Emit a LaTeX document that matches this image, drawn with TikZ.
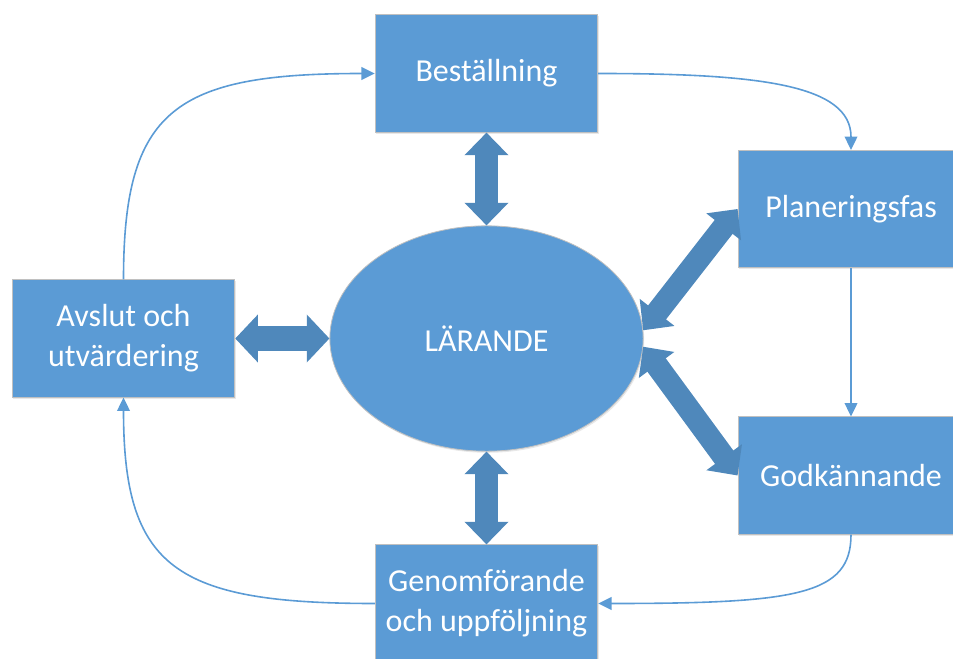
\documentclass[tikz,border=0pt]{standalone}
\usepackage{fontspec}
\setmainfont{Carlito}
\usepackage{tikz}
\usetikzlibrary{arrows.meta,positioning,shapes.geometric,shadows}

\begin{document}
\begin{tikzpicture}[x=0.75pt,y=-0.75pt]
\definecolor{boxblue}{HTML}{5B9BD5}
\definecolor{linkblue}{HTML}{4F88BB}
\definecolor{edgegray}{HTML}{C0C0C0}
\tikzset{
  phase/.style={rectangle,fill=boxblue,draw=edgegray,line width=0.6pt,text=white,align=center,
    minimum width=167pt,minimum height=88pt,font=\fontsize{24pt}{30pt}\selectfont,
    drop shadow={shadow xshift=0.8pt,shadow yshift=-1.2pt,opacity=0.18}},
  flow/.style={draw=boxblue,line width=1.2pt,-{Triangle[length=10pt,width=9.5pt]}},
  link/.style={draw=linkblue,line width=17pt,{Triangle[length=17pt,width=32pt]}-{Triangle[length=17pt,width=32pt]}}
}
\useasboundingbox (0,0) rectangle (953,659);

% centre
\node[phase,ellipse,minimum width=235pt,minimum height=169pt] (lar) at (486.5,338.5) {LÄRANDE};

% phases
\node[phase] (best) at (486.5,73.5) {Beställning};
\node[phase,minimum width=169.5pt] (plan) at (851,209) {Planeringsfas};
\node[phase,minimum width=169.5pt] (godk) at (851,475.5) {Godkännande};
\node[phase] (genom) at (486.5,603.5) {Genomförande\\och uppföljning};
\node[phase] (avsl) at (123.5,338.5) {Avslut och\\utvärdering};

% cycle
\draw[flow] (avsl.north) .. controls +(0,-170) and +(-200,0) .. (best.west);
\draw[flow] (best.east) .. controls +(162,0) and +(0,-65) .. (plan.north);
\draw[flow] (plan.south) -- (godk.north);
\draw[flow] (godk.south) .. controls +(0,60) and +(200,0) .. (genom.east);
\draw[flow] (genom.west) .. controls +(-200,0) and +(0,170) .. (avsl.south);

% links to the centre
\draw[link] (best.south) -- (lar.north);
\draw[link] (lar.south) -- (genom.north);
\draw[link,line width=18.5pt,{Triangle[length=17pt,width=35pt]}-{Triangle[length=17pt,width=35pt]}] (avsl.east) -- (lar.west);
\draw[link] (lar.3) -- (plan.west);
\draw[link] (lar.-3) -- (godk.west);
\end{tikzpicture}
\end{document}
